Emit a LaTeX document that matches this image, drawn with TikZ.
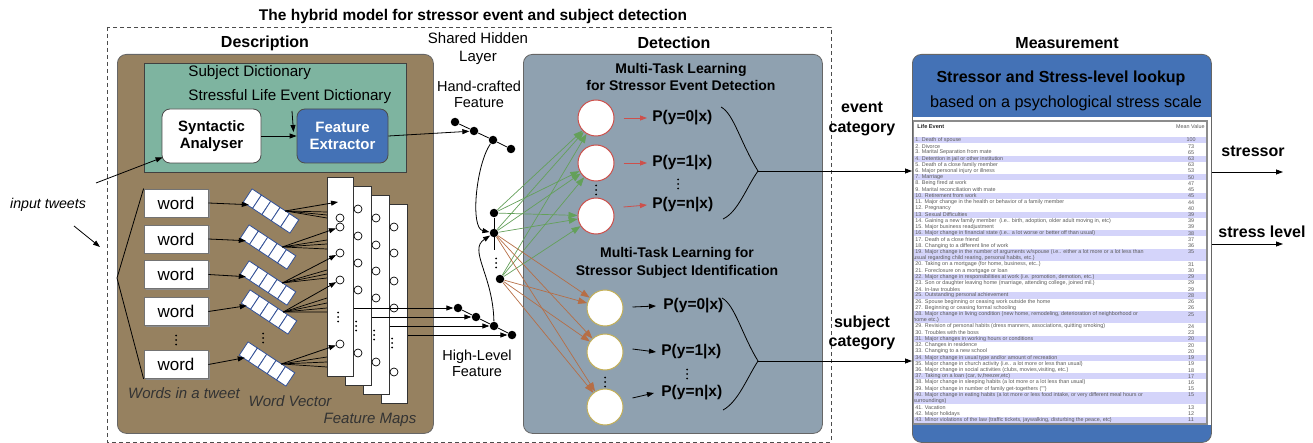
\documentclass[tikz,border=0pt]{standalone}
\usepackage{fontspec}
\setmainfont{Liberation Sans}
\usetikzlibrary{arrows.meta,shadows}
\definecolor{brownp}{RGB}{150,129,96}
\definecolor{greenp}{RGB}{126,180,160}
\definecolor{detp}{RGB}{143,161,176}
\definecolor{bluep}{RGB}{68,114,182}
\definecolor{hlrow}{RGB}{212,212,250}
\definecolor{redc}{RGB}{205,80,75}
\definecolor{yelc}{RGB}{196,176,88}
\definecolor{greena}{RGB}{100,160,90}
\definecolor{browna}{RGB}{182,110,70}
\definecolor{vecb}{RGB}{50,80,150}
\newcommand\wvec[3]{%
 \begin{scope}[shift={(#1,#2)},rotate=-33.5]
  \foreach \k in {0,...,4} \draw[vecb,fill=white,line width=0.8pt] (-28+11.2*\k,-8) rectangle ++(11.2,16);
  \coordinate (#3in) at (-22,7);
  \coordinate (#3out) at (12,-8);
 \end{scope}}
\newcommand\vd[2]{\fill (#1,#2-4.5) circle (1) (#1,#2) circle (1) (#1,#2+4.5) circle (1);}
\newcommand\trow[3]{\node[rowtxt,anchor=west] (t#1) at (915,140+6.22*#1) {#2};
 \node[rowtxt] (tv#1) at (1191,140+6.22*#1) {#3};}
\newcommand\tcont[2]{\node[rowtxt,anchor=west] (t#1) at (913,140+6.22*#1) {#2};}
\newcommand\hlr[2]{\fill[hlrow] (914,140+6.22*#1-3.11) rectangle (1206,140+6.22*#1-3.11+6.22*#2);}
\begin{document}
\begin{tikzpicture}[x=1pt,y=-1pt,line width=0.8pt,
 >={Triangle[length=7pt,width=5pt]},
 sec/.style={font=\fontsize{16}{19}\selectfont\bfseries,inner sep=0pt},
 plain/.style={font=\fontsize{15}{18}\selectfont,inner sep=0pt},
 itl/.style={font=\fontsize{15}{18}\selectfont\itshape,inner sep=0pt,text=black!80},
 wordbox/.style={draw=black!55,fill=white,minimum width=64pt,minimum height=28pt,inner sep=0pt,
   font=\fontsize{17}{20}\selectfont,drop shadow={shadow xshift=1.5pt,shadow yshift=-1.5pt,fill=black!45,opacity=1}},
 mapbox/.style={draw=black!80,fill=white,minimum width=26pt,minimum height=199pt,inner sep=0pt,line width=0.7pt},
 mc/.style={circle,draw=black,fill=white,minimum size=8pt,inner sep=0pt,line width=0.7pt},
 hn/.style={circle,fill=black,minimum size=8.5pt,inner sep=0pt},
 pn/.style={font=\fontsize{15.5}{18}\selectfont\bfseries,inner sep=0pt,anchor=west},
 ec/.style={circle,draw=redc,fill=white,minimum size=36pt,inner sep=0pt,line width=1pt},
 sc/.style={circle,draw=yelc,fill=white,minimum size=36pt,inner sep=0pt,line width=1pt},
 ga/.style={greena,-{Triangle[length=9pt,width=6.5pt]},line width=0.7pt},
 ba/.style={browna,-{Triangle[length=9pt,width=6.5pt]},line width=0.7pt},
 rowtxt/.style={font=\fontsize{5.4}{6}\selectfont,inner sep=0pt,text=black!65}]
\useasboundingbox (0,0) rectangle (1313,443);

% title and dashed frame
\node[font=\fontsize{15.5}{18}\selectfont\bfseries,inner sep=0pt] (title) at (473,16) {The hybrid model for stressor event and subject detection};
\draw[black!70,dash pattern=on 4pt off 3pt] (107,27) rectangle (831,442);
\node[sec] (tdesc) at (265,43) {Description};
\node[sec] (tdet) at (674,43) {Detection};
\node[sec] (tmeas) at (1067,43) {Measurement};
\node[plain,align=center,font=\fontsize{15}{18}\selectfont] (shl) at (478,49) {Shared Hidden\\Layer};

% Description panel
\node[draw=black!60,fill=brownp,rounded corners=9pt,minimum width=316pt,minimum height=379pt,anchor=north west,inner sep=0pt] (desc) at (117,54) {};
\node[draw=black!75,fill=greenp,minimum width=262pt,minimum height=109pt,anchor=north west,inner sep=0pt] (dict) at (144,63) {};
\node[plain,anchor=west,font=\fontsize{15.2}{18}\selectfont] (subjd) at (188,73) {Subject Dictionary};
\node[plain,anchor=west,font=\fontsize{15.2}{18}\selectfont] (sled) at (188,97) {Stressful Life Event Dictionary};
\node[draw=black!70,fill=white,rounded corners=8pt,minimum width=99pt,minimum height=54pt,inner sep=0pt,align=center,
  font=\fontsize{15}{17.5}\selectfont\bfseries] (sa) at (211.5,136) {Syntactic\\Analyser};
\node[draw=black!70,fill=bluep,rounded corners=8pt,minimum width=91pt,minimum height=54pt,inner sep=0pt,align=center,
  text=white,font=\fontsize{15}{17.5}\selectfont\bfseries] (fe) at (342.5,136) {Feature\\Extractor};
\draw[->] (sa.east) -- (fe.west);
\coordinate (sledar) at (292,111);
\coordinate (sledtip) at (293.5,132);
\draw[->] (sledar) -- (sledtip);

% input tweets
\node[itl,font=\fontsize{14.2}{17}\selectfont\itshape,text=black] (it) at (48,205) {input tweets};
\coordinate (it1) at (96,183);
\draw[->] (it1) -- ([shift={(1,-6)}]sa.south west);
\coordinate (it2a) at (74,226);
\coordinate (it2b) at (100,247);
\draw[->] (it2a) -- (it2b);

% words
\node[wordbox] (w1) at (176,203) {word};
\node[wordbox] (w2) at (176,239) {word};
\node[wordbox] (w3) at (176,274.5) {word};
\node[wordbox] (w4) at (176,311.5) {word};
\node[wordbox] (w5) at (176,364.5) {word};
\vd{176}{340}
\coordinate (brk) at (117,278);
\draw (w1.north west) -- (brk) -- (w5.south west);

% word vectors
\wvec{271}{211}{v1}
\wvec{268}{247}{v2}
\wvec{268}{283}{v3}
\wvec{269}{312}{v4}
\wvec{267}{364}{v5}
\vd{263}{338}
\foreach \i in {1,...,5} \draw[->] (w\i.east) -- (v\i in);

% feature maps
\node[mapbox,anchor=north west] (m4) at (381,204) {};
\node[mapbox,anchor=north west] (m3) at (363,195) {};
\node[mapbox,anchor=north west] (m2) at (345,186) {};
\node[mapbox,anchor=north west] (m1) at (327,177) {};
\foreach \yy/\n in {218/a,227/b,253/c,280/d,344/e} \node[mc] (m1\n) at (340,\yy) {};
\foreach \yy/\n in {209/a,236/b,263/c,290/d,353/e} \node[mc] (m2\n) at (358,\yy) {};
\foreach \yy/\n in {218/a,245/b,271/c,298/d,362/e} \node[mc] (m3\n) at (376,\yy) {};
\foreach \yy/\n in {227/a,253/b,281/c,308/d,372/e} \node[mc] (m4\n) at (394,\yy) {};
\vd{338}{317}\vd{356}{326}\vd{374}{335}\vd{392}{343}

% fans from vectors to first map
\coordinate (m1top) at (338,202);
\draw[->] (v1out) -- (m1top);
\foreach \yy in {212,215,218} \draw[line width=0.7pt] (v1out) -- (m1.west |- 0,\yy);
\draw[->] (v2out) -- (m1b);
\foreach \yy in {240,244,249} \draw[line width=0.7pt] (v2out) -- (m1.west |- 0,\yy);
\draw[->] (v3out) -- (m1c);
\foreach \yy in {270,274,278} \draw[line width=0.7pt] (v3out) -- (m1.west |- 0,\yy);
\draw[->] (v4out) -- (m1d);
\foreach \yy in {298,303,308,312} \draw[line width=0.7pt] (v4out) -- (m1.west |- 0,\yy);
\draw[->] (v5out) -- (m1e);
\foreach \yy in {357,362,367} \draw[line width=0.7pt] (v5out) -- (m1.west |- 0,\yy);

\node[itl] (wit) at (184,393) {Words in a tweet};
\node[itl] (wv) at (290,401) {Word Vector};
\node[itl] (fm) at (370,420) {Feature Maps};

% Detection panel
\node[draw=black!60,fill=detp,rounded corners=9pt,minimum width=299pt,minimum height=379pt,anchor=north west,inner sep=0pt] (det) at (523,54) {};

% shared hidden layer
\node[plain,align=center,font=\fontsize{14.5}{16}\selectfont] (hcl) at (479,94) {Hand-crafted\\Feature};
\node[plain,align=center,font=\fontsize{14.5}{16}\selectfont] (hll) at (477,363) {High-Level\\Feature};
\node[hn] (hc1) at (455,122) {};
\node[hn] (hc2) at (474,131) {};
\node[hn] (hc3) at (493,140) {};
\node[hn] (hc4) at (511,149) {};
\draw (hc1) -- (hc2) -- (hc3) -- (hc4);
\draw[->] (fe.east) -- (hc2);
\node[hn] (hl1) at (458,308) {};
\node[hn] (hl2) at (476,317) {};
\node[hn] (hl3) at (494,326) {};
\node[hn] (hl4) at (512,335) {};
\draw (hl1) -- (hl2) -- (hl3) -- (hl4);
\draw[->] (m1.east |- hl1) -- (hl1);
\draw[->] (m2.east |- hl2) -- (hl2);
\draw[->] (m3.east |- hl3) -- (hl3);
\draw[->] (m4.east |- hl4) -- (hl4);
\node[hn] (h1) at (494,213) {};
\node[hn] (h2) at (494,233) {};
\node[hn] (h3) at (500,279) {};
\coordinate (hv) at (494,250);
\draw (h1) -- (hv);
\vd{496}{263}
\draw[->] (hc3) .. controls (476,165) and (470,228) .. (h2);
\draw[->] (hl3) .. controls (493,275) and (468,250) .. (h2);

% detection content
\node[align=center,inner sep=0pt,font=\fontsize{14}{17}\selectfont\bfseries] (mtl1) at (681,76.5) {Multi-Task Learning\\for Stressor Event Detection};
\node[align=center,inner sep=0pt,font=\fontsize{14}{18}\selectfont\bfseries] (mtl2) at (677,263) {Multi-Task Learning for\\Stressor Subject Identification};
\node[ec] (e1) at (596,118) {};
\node[ec] (e2) at (596,163) {};
\node[ec] (e3) at (596,216) {};
\vd{596}{190}
\node[sc] (s1) at (605,308) {};
\node[sc] (s2) at (605,352) {};
\node[sc] (s3) at (605,407) {};
\vd{605}{382}
\foreach \h in {h1,h2,h3} \foreach \e in {e1,e2,e3} \draw[ga] (\h) -- (\e);
\foreach \h in {h2,h3} \foreach \s in {s1,s2,s3} \draw[ba] (\h) -- (\s);

\node[pn] (p1) at (652,118) {P(y=0|x)};
\node[pn] (p2) at (652,163) {P(y=1|x)};
\node[pn] (p3) at (652,205) {P(y=n|x)};
\vd{678}{184}
\draw[redc,->] ([xshift=9pt]e1.east) -- ([xshift=-5pt]p1.west);
\draw[redc,->] ([xshift=9pt]e2.east) -- ([xshift=-5pt]p2.west);
\draw[redc,->] ([shift={(9,-9)}]e3.east) -- ([xshift=-5pt]p3.west);
\node[pn] (q1) at (663,306) {P(y=0|x)};
\node[pn] (q2) at (661,352) {P(y=1|x)};
\node[pn] (q3) at (661,393) {P(y=n|x)};
\vd{687}{374}
\draw[->] ([shift={(9,-1)}]s1.east) -- ([xshift=-7pt]q1.west);
\draw[->] ([shift={(9,-3)}]s2.east) -- ([xshift=-5pt]q2.west);
\draw[->] ([shift={(9,-9)}]s3.east) -- ([xshift=-7pt]q3.west);

% braces
\coordinate (eb1) at (721,107);
\coordinate (ebm) at (758,171);
\coordinate (eb2) at (723,219);
\draw (eb1) .. controls (734,114) and (740,142) .. (ebm) .. controls (746,188) and (738,212) .. (eb2);
\coordinate (sb1) at (722,298);
\coordinate (sbm) at (758,361);
\coordinate (sb2) at (723,410);
\draw (sb1) .. controls (735,305) and (742,335) .. (sbm) .. controls (747,378) and (738,402) .. (sb2);
\node[align=center,inner sep=0pt,font=\fontsize{16}{20}\selectfont\bfseries] (evl) at (862,119) {event\\category};
\node[align=center,inner sep=0pt,font=\fontsize{16}{19}\selectfont\bfseries] (sbl) at (862,332.5) {subject\\category};

% Measurement
\node[draw=black!60,fill=bluep,rounded corners=9pt,minimum width=299pt,minimum height=388pt,anchor=north west,inner sep=0pt] (meas) at (912,54) {};
\draw[->] (ebm) -- (meas.west |- ebm);
\draw[->] (sbm) -- (meas.west |- sbm);
\node[inner sep=0pt,font=\fontsize{16}{19}\selectfont\bfseries] (mt1) at (1061,78) {Stressor and Stress-level lookup};
\node[inner sep=0pt,font=\fontsize{16.2}{19}\selectfont] (mt2) at (1066,103) {based on a psychological stress scale};
\fill[white] (912.5,117) rectangle (1210.5,425);
\node[rowtxt,anchor=west,text=black!85,font=\fontsize{5.6}{6}\selectfont\bfseries] (lhead) at (917,127) {Life Event};
\node[rowtxt,anchor=east] (mhead) at (1205,127) {Mean Value};
\hlr{0}{1}\hlr{3}{1}\hlr{6}{1}\hlr{9}{1}\hlr{12}{1}\hlr{15}{1}\hlr{18}{2}\hlr{22}{1}\hlr{25}{1}\hlr{28}{2}
\hlr{32}{1}\hlr{35}{1}\hlr{38}{1}\hlr{41}{2}\hlr{45}{1}
\trow{0}{1. Death of spouse}{100}
\trow{1}{2. Divorce}{73}
\trow{2}{3. Marital Separation from mate}{65}
\trow{3}{4. Detention in jail or other institution}{63}
\trow{4}{5. Death of a close family member}{63}
\trow{5}{6. Major personal injury or illness}{53}
\trow{6}{7. Marriage}{50}
\trow{7}{8. Being fired at work}{47}
\trow{8}{9. Marital reconciliation with mate}{45}
\trow{9}{10. Retirement from work}{45}
\trow{10}{11. Major change in the health or behavior of a family member}{44}
\trow{11}{12. Pregnancy}{40}
\trow{12}{13. Sexual Difficulties}{39}
\trow{13}{14. Gaining a new family member\ \ (i.e.. birth, adoption, older adult moving in, etc)}{39}
\trow{14}{15. Major business readjustment}{39}
\trow{15}{16. Major change in financial state (i.e.. a lot worse or better off than usual)}{38}
\trow{16}{17. Death of a close friend}{37}
\trow{17}{18. Changing to a different line of work}{36}
\trow{18}{19. Major change in the number of arguments w/spouse (i.e.. either a lot more or a lot less than}{35}
\tcont{19}{usual regarding child rearing, personal habits, etc.)}
\trow{20}{20. Taking on a mortgage (for home, business, etc..)}{31}
\trow{21}{21. Foreclosure on a mortgage or loan}{30}
\trow{22}{22. Major change in responsibilities at work (i.e. promotion, demotion, etc.)}{29}
\trow{23}{23. Son or daughter leaving home (marriage, attending college, joined mil.)}{29}
\trow{24}{24. In-law troubles}{29}
\trow{25}{25. Outstanding personal achievement}{28}
\trow{26}{26. Spouse beginning or ceasing work outside the home}{26}
\trow{27}{27. Beginning or ceasing formal schooling}{26}
\trow{28}{28. Major change in living condition (new home, remodeling, deterioration of neighborhood or}{25}
\tcont{29}{home etc.)}
\trow{30}{29. Revision of personal habits (dress manners, associations, quitting smoking)}{24}
\trow{31}{30. Troubles with the boss}{23}
\trow{32}{31. Major changes in working hours or conditions}{20}
\trow{33}{32. Changes in residence}{20}
\trow{34}{33. Changing to a new school}{20}
\trow{35}{34. Major change in usual type and/or amount of recreation}{19}
\trow{36}{35. Major change in church activity (i.e.. a lot more or less than usual)}{19}
\trow{37}{36. Major change in social activities (clubs, movies,visiting, etc.)}{18}
\trow{38}{37. Taking on a loan (car, tv,freezer,etc)}{17}
\trow{39}{38. Major change in sleeping habits (a lot more or a lot less than usual)}{16}
\trow{40}{39. Major change in number of family get-togethers ("")}{15}
\trow{41}{40. Major change in eating habits (a lot more or less food intake, or very different meal hours or}{15}
\tcont{42}{surroundings)}
\trow{43}{41. Vacation}{13}
\trow{44}{42. Major holidays}{12}
\trow{45}{43. Minor violations of the law (traffic tickets, jaywalking, disturbing the peace, etc)}{11}
\draw[black!45,line width=1.2pt] (913.5,121) rectangle (1207,424);

% outputs
\node[inner sep=0pt,font=\fontsize{16}{19}\selectfont\bfseries] (stl) at (1253,151) {stressor};
\node[inner sep=0pt,font=\fontsize{16}{19}\selectfont\bfseries] (sll) at (1262,232) {stress level};
\coordinate (stE) at (1283,172);
\coordinate (slE) at (1283,244);
\draw[->] (meas.east |- stE) -- (stE);
\draw[->] (meas.east |- slE) -- (slE);
\end{tikzpicture}
\end{document}
